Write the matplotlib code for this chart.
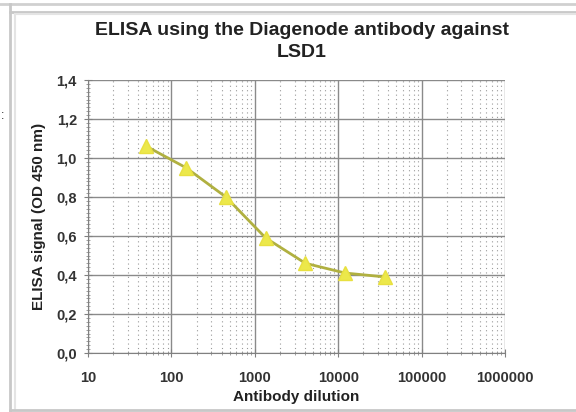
import numpy as np
import matplotlib
matplotlib.use("Agg")
import matplotlib.pyplot as plt
from matplotlib.ticker import FuncFormatter, LogLocator, MultipleLocator, NullFormatter

# data
dilution = [50, 150, 450, 1350, 4050, 12150, 36450]
signal = [1.06, 0.95, 0.80, 0.59, 0.46, 0.41, 0.39]

title = "ELISA using the Diagenode antibody against\nLSD1"
xlabel = "Antibody dilution"
ylabel = "ELISA signal (OD 450 nm)"

plt.rcParams['font.family'] = ['Liberation Sans', 'DejaVu Sans']

fig = plt.figure(figsize=(5.76, 4.12), dpi=100)
fig.patch.set_facecolor("white")

# screenshot frame lines
fig.add_artist(plt.Line2D([0, 1], [0.99, 0.99], color="#d0d0d0", lw=2))
fig.add_artist(plt.Line2D([0.018, 1], [0.972, 0.972], color="#c8c8c8", lw=2))
fig.add_artist(plt.Line2D([0.018, 0.018], [0, 0.99], color="#c8c8c8", lw=2))
fig.add_artist(plt.Line2D([0.026, 0.026], [0.005, 0.965], color="#e4e4e4", lw=1.5))
fig.add_artist(plt.Line2D([0.026, 1], [0.965, 0.965], color="#e4e4e4", lw=1.5))
fig.add_artist(plt.Line2D([0.018, 1], [0.006, 0.006], color="#c8c8c8", lw=2))
fig.text(0.002, 0.71, ":", fontsize=9, color="#222222")

ax = fig.add_axes([0.1528, 0.1432, 0.7239, 0.6626])
ax.set_xscale("log")
ax.set_xlim(10, 1e6)
ax.set_ylim(0, 1.4)

ax.plot(dilution, signal, color="#b0b040", lw=2, zorder=3)
ax.plot(dilution, signal, ls="none", marker="^", ms=10,
        mfc="#ece84a", mec="#e8e040", zorder=4)

ax.xaxis.set_major_locator(LogLocator(base=10, numticks=10))
ax.xaxis.set_minor_locator(LogLocator(base=10, subs=np.arange(2, 10), numticks=20))
ax.xaxis.set_minor_formatter(NullFormatter())
ax.xaxis.set_major_formatter(FuncFormatter(lambda v, p: "%d" % round(v)))
ax.yaxis.set_major_locator(MultipleLocator(0.2))
ax.yaxis.set_minor_locator(MultipleLocator(0.02))
ax.yaxis.set_major_formatter(FuncFormatter(lambda v, p: ("%.1f" % v).replace(".", ",")))

ax.grid(which="major", color="#8a8a8a", lw=1.0)
ax.grid(which="minor", axis="x", color="#9a9a9a", lw=0.8, ls=(0, (1, 3)))
ax.set_axisbelow(True)

for s in ["top", "right"]:
    ax.spines[s].set_visible(False)
for s in ["left", "bottom"]:
    ax.spines[s].set_color("#808080")

ax.tick_params(which="major", direction="inout", length=6, color="#808080",
               labelsize=10.5, labelcolor="#333333")
ax.tick_params(which="minor", direction="inout", length=3, color="#909090")
for lab in ax.get_xticklabels() + ax.get_yticklabels():
    lab.set_fontweight("bold")
ax.tick_params(axis="x", pad=10)
ax.tick_params(axis="y", pad=5)

ax.set_xlabel(xlabel, fontsize=11, fontweight="bold", color="#222222")
ax.set_ylabel(ylabel, fontsize=11, fontweight="bold", color="#222222")
ax.xaxis.set_label_coords(0.5, -0.136)
ax.yaxis.set_label_coords(-0.100, 0.5)
fig.text(0.524, 0.900, title, ha="center", va="center", fontsize=14,
         fontweight="bold", color="#222222", linespacing=1.4)

fig.savefig("out.png", dpi=100)
